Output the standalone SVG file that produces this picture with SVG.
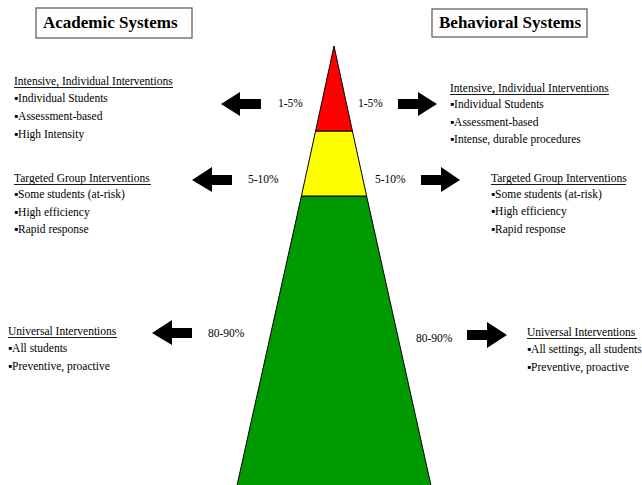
<svg xmlns="http://www.w3.org/2000/svg" width="642" height="485" viewBox="0 0 642 485">
<style>
.hdr{font-family:'Liberation Serif',serif;font-weight:bold;font-size:17px;fill:#000}
.hbox{fill:#fff;stroke:#555;stroke-width:1.2}
.t{font-family:'Liberation Serif',serif;font-size:11.5px;fill:#000}
.ul{stroke:#000;stroke-width:0.9}
.pct{font-family:'Liberation Serif',serif;font-size:11.5px;fill:#000}
.tier{stroke:#000;stroke-width:1}
.arrow{fill:#000}
</style>
<rect width="642" height="485" fill="#fff"/>
<g id="header-academic">
<rect class="hbox" x="36" y="8" width="156" height="30"/>
<text class="hdr" font-family="Liberation Serif" x="43" y="28">Academic Systems</text>
</g>
<g id="header-behavioral">
<rect class="hbox" x="432" y="9" width="155" height="28"/>
<text class="hdr" font-family="Liberation Serif" x="439" y="28">Behavioral Systems</text>
</g>

<g id="pyramid">
<polygon id="tier-green" class="tier" fill="#009900" points="301.4,196 366.6,196 432,490 236,490"/>
<polygon id="tier-yellow" class="tier" fill="#ffff00" points="315.6,131 352.4,131 366.6,196 301.4,196"/>
<polygon id="tier-red" class="tier" fill="#ff0000" points="334,46 352.4,131 315.6,131"/>
</g>

<g id="labels">
<text class="pct" font-family="Liberation Serif" x="278" y="107">1-5%</text>
<text class="pct" font-family="Liberation Serif" x="358" y="107">1-5%</text>
<text class="pct" font-family="Liberation Serif" x="248" y="183">5-10%</text>
<text class="pct" font-family="Liberation Serif" x="375" y="183">5-10%</text>
<text class="pct" font-family="Liberation Serif" x="208" y="337">80-90%</text>
<text class="pct" font-family="Liberation Serif" x="416" y="342">80-90%</text>
</g>

<g id="connectors">
<polygon class="arrow" points="221,104 240,92 240,99 261,99 261,109 240,109 240,116"/>
<polygon class="arrow" points="192,180 212,167 212,175 232,175 232,185 212,185 212,192"/>
<polygon class="arrow" points="152,333 172,320 172,328 192,328 192,338 172,338 172,345"/>
<polygon class="arrow" points="437,104 418,92 418,99 398,99 398,109 418,109 418,116"/>
<polygon class="arrow" points="460,180 441,167 441,175 421,175 421,185 441,185 441,192"/>
<polygon class="arrow" points="507,335 487,322 487,330 467,330 467,340 487,340 487,348"/>
</g>

<g id="academic-intensive">
<text class="t" font-family="Liberation Serif" x="14" y="85">Intensive, Individual Interventions</text>
<line class="ul" x1="14" y1="87.5" x2="173" y2="87.5"/>
<text class="t" font-family="Liberation Serif" x="14" y="102">▪Individual Students</text>
<text class="t" font-family="Liberation Serif" x="14" y="120">▪Assessment-based</text>
<text class="t" font-family="Liberation Serif" x="14" y="138">▪High Intensity</text>
</g>
<g id="academic-targeted">
<text class="t" font-family="Liberation Serif" x="14" y="182">Targeted Group Interventions</text>
<line class="ul" x1="14" y1="184.5" x2="151" y2="184.5"/>
<text class="t" font-family="Liberation Serif" x="14" y="198">▪Some students (at-risk)</text>
<text class="t" font-family="Liberation Serif" x="14" y="216">▪High efficiency</text>
<text class="t" font-family="Liberation Serif" x="14" y="233">▪Rapid response</text>
</g>
<g id="academic-universal">
<text class="t" font-family="Liberation Serif" x="8" y="335">Universal Interventions</text>
<line class="ul" x1="8" y1="337.5" x2="117" y2="337.5"/>
<text class="t" font-family="Liberation Serif" x="8" y="352">▪All students</text>
<text class="t" font-family="Liberation Serif" x="8" y="370">▪Preventive,  proactive</text>
</g>

<g id="behavioral-intensive">
<text class="t" font-family="Liberation Serif" x="450" y="92">Intensive, Individual Interventions</text>
<line class="ul" x1="450" y1="94.5" x2="609" y2="94.5"/>
<text class="t" font-family="Liberation Serif" x="450" y="108">▪Individual Students</text>
<text class="t" font-family="Liberation Serif" x="450" y="126">▪Assessment-based</text>
<text class="t" font-family="Liberation Serif" x="450" y="143">▪Intense, durable procedures</text>
</g>
<g id="behavioral-targeted">
<text class="t" font-family="Liberation Serif" x="491" y="182">Targeted Group Interventions</text>
<line class="ul" x1="491" y1="184.5" x2="626" y2="184.5"/>
<text class="t" font-family="Liberation Serif" x="491" y="198">▪Some students (at-risk)</text>
<text class="t" font-family="Liberation Serif" x="491" y="215">▪High efficiency</text>
<text class="t" font-family="Liberation Serif" x="491" y="233">▪Rapid response</text>
</g>
<g id="behavioral-universal">
<text class="t" font-family="Liberation Serif" x="527" y="336">Universal Interventions</text>
<line class="ul" x1="527" y1="338.5" x2="637" y2="338.5"/>
<text class="t" font-family="Liberation Serif" x="527" y="353">▪All settings, all students</text>
<text class="t" font-family="Liberation Serif" x="527" y="371">▪Preventive,  proactive</text>
</g>
</svg>
